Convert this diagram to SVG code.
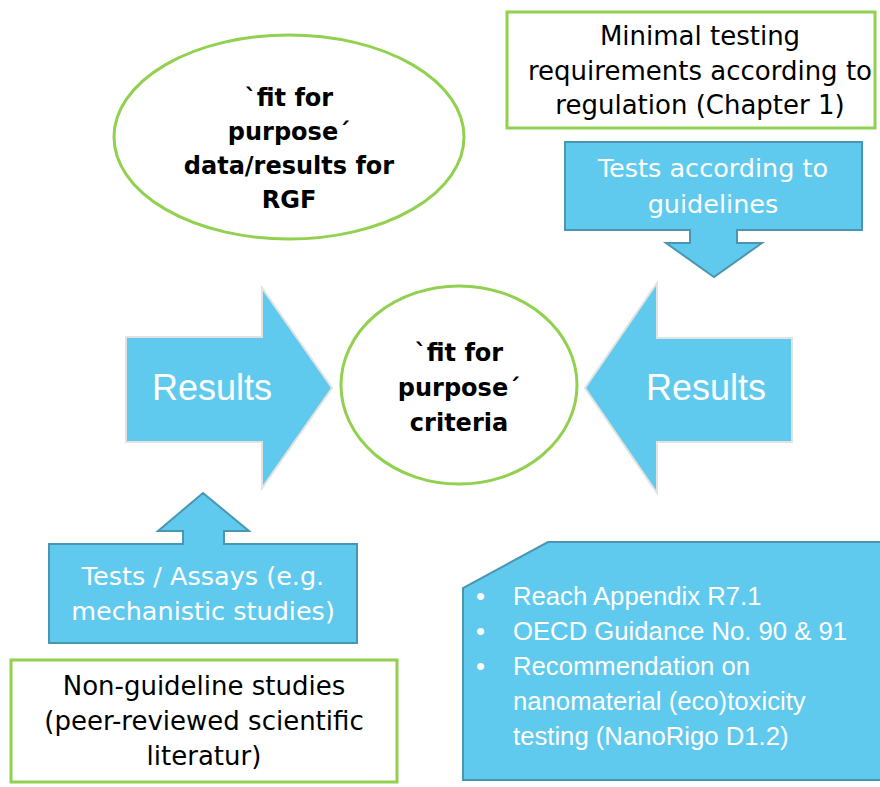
<svg xmlns="http://www.w3.org/2000/svg" width="880" height="787" viewBox="0 0 880 787">
<style>
.bg{fill:#ffffff}
.green{fill:#ffffff;stroke:#92D050;stroke-width:3}
.blue{fill:#5FCAEE;stroke:#4A95B2;stroke-width:2}
.arrow{fill:#5FCAEE;stroke:#E2E2E2;stroke-width:2}
.bold{font-family:"DejaVu Sans","Liberation Sans",sans-serif;font-weight:bold;font-size:24px;fill:#000;text-anchor:middle}
.dark{font-family:"DejaVu Sans","Liberation Sans",sans-serif;font-size:26px;fill:#000;text-anchor:middle}
.white{font-family:"DejaVu Sans","Liberation Sans",sans-serif;font-size:25.5px;fill:#fff;text-anchor:middle}
.res{font-family:"Liberation Sans",sans-serif;font-size:36px;fill:#fff;text-anchor:middle}
.list{font-family:"Liberation Sans",sans-serif;font-size:25.7px;fill:#fff}
</style>
<rect class="bg" x="0" y="0" width="880" height="787"/>
<g id="connectors">
<g id="arrow-left">
<path class="arrow" d="M126,337 L262,337 L262,288 L332,388 L262,488 L262,442 L126,442 Z"/>
<text class="res" x="212" y="400">Results</text>
</g>
<g id="arrow-right">
<path class="arrow" d="M792,338 L657,338 L657,283 L585,388 L657,493 L657,442 L792,442 Z"/>
<text class="res" x="706" y="400">Results</text>
</g>
</g>
<g id="goal">
<ellipse class="green" cx="289" cy="137" rx="175" ry="102"/>
<text class="bold" x="289" y="106">`fit for</text>
<text class="bold" x="289" y="140">purpose´</text>
<text class="bold" x="289" y="174">data/results for</text>
<text class="bold" x="289" y="208">RGF</text>
</g>
<g id="criteria">
<ellipse class="green" cx="459" cy="385" rx="118" ry="99"/>
<text class="bold" x="459" y="361">`fit for</text>
<text class="bold" x="459" y="396">purpose´</text>
<text class="bold" x="459" y="431">criteria</text>
</g>
<g id="minimal">
<rect class="green" x="507" y="12" width="368" height="116"/>
<text class="dark" x="700" y="45">Minimal testing</text>
<text class="dark" x="700" y="80">requirements according to</text>
<text class="dark" x="700" y="114">regulation (Chapter 1)</text>
</g>
<g id="tests-guidelines">
<path class="blue" d="M565,142 L862,142 L862,230 L737,230 L737,243 L762,243 L714,277 L666,243 L690,243 L690,230 L565,230 Z"/>
<text class="white" x="713" y="177">Tests according to</text>
<text class="white" x="713" y="213">guidelines</text>
</g>
<g id="tests-assays">
<path class="blue" d="M49,544 L183,544 L183,531 L158,531 L203,493 L249,531 L224,531 L224,544 L357,544 L357,643 L49,643 Z"/>
<text class="white" x="203" y="585">Tests / Assays (e.g.</text>
<text class="white" x="203" y="620">mechanistic studies)</text>
</g>
<g id="non-guideline">
<rect class="green" x="11" y="660" width="386" height="122"/>
<text class="dark" x="204" y="695">Non-guideline studies</text>
<text class="dark" x="204" y="730">(peer-reviewed scientific</text>
<text class="dark" x="204" y="765">literatur)</text>
</g>
<g id="references">
<path class="blue" d="M548,542 L882,542 L882,780 L463,780 L463,588 Z"/>
<text class="list"><tspan x="476" y="605">•</tspan><tspan x="513" y="605">Reach Appendix R7.1</tspan></text>
<text class="list"><tspan x="476" y="640">•</tspan><tspan x="513" y="640">OECD Guidance No. 90 &amp; 91</tspan></text>
<text class="list"><tspan x="476" y="675">•</tspan><tspan x="513" y="675">Recommendation on</tspan></text>
<text class="list"><tspan x="513" y="710">nanomaterial (eco)toxicity</tspan></text>
<text class="list"><tspan x="513" y="745">testing (NanoRigo D1.2)</tspan></text>
</g>
</svg>
